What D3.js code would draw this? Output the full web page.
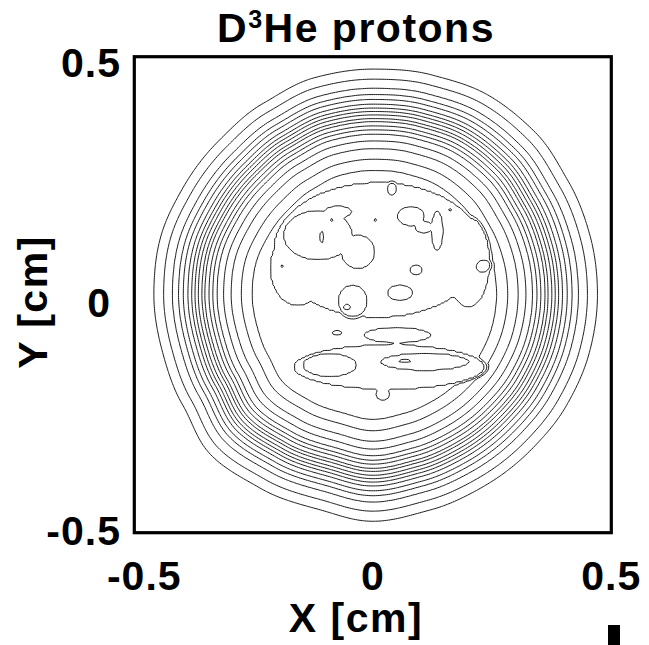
<!DOCTYPE html>
<html>
<head>
<meta charset="utf-8">
<script src="https://cdn.jsdelivr.net/npm/d3@7"></script>
<style>
  html, body { margin: 0; padding: 0; background: #fff; }
  svg { display: block; font-family: "Liberation Sans", Arial, Helvetica, sans-serif; font-weight: bold; }
</style>
</head>
<body>
<svg id="chart" width="649" height="645"></svg>
<script>
// ---- axis ticks (cm) ----
const xTicks = [-0.5, 0, 0.5];
const yTicks = [-0.5, 0, 0.5];
const xTickLabels = ["-0.5", "0", "0.5"];
const yTickLabels = ["-0.5", "0", "0.5"];

// ---- radii (cm) of the concentric rings, outermost (level 1) inward ----
const ringRadius = [0.468, 0.447, 0.428, 0.415, 0.405, 0.395, 0.387, 0.380, 0.373,
                    0.365, 0.359, 0.350, 0.342, 0.333, 0.319, 0.303, 0.281, 0.258];

// ---- radius (cm) of the outermost ring every 15 degrees, counter-clockwise from +X ----
const edgeAngleStep = 15;
const edgeRadius = [0.471, 0.472, 0.474, 0.482, 0.484, 0.478, 0.474, 0.472, 0.463, 0.457, 0.457, 0.461,
                    0.459, 0.457, 0.461, 0.478, 0.470, 0.465, 0.476, 0.468, 0.465, 0.465, 0.468, 0.470];

// ---- raised interior patches: [x, y, rx, ry, tilt (deg), level] (cm) ----
const raisedPatches = [
  // level-19 regions
  [ 0.011,  0.094, 0.220, 0.143,  0, 19],
  [-0.157,  0.056, 0.059, 0.080,  0, 19],
  [ 0.200,  0.068, 0.046, 0.095,  0, 19],
  [ 0.034, -0.152, 0.201, 0.048,  0, 19],
  [ 0.051, -0.085, 0.071, 0.017,  0, 19],
  [-0.075, -0.080, 0.011, 0.005,  0, 19],
  [ 0.021, -0.209, 0.015, 0.013,  0, 19],
  // level-20 islands
  [-0.115,  0.125, 0.073, 0.053,  0, 20],
  [-0.031,  0.090, 0.036, 0.036,  0, 20],
  [-0.073,  0.174, 0.029, 0.013,  0, 20],
  [ 0.080,  0.165, 0.029, 0.021,  0, 20],
  [ 0.135,  0.134, 0.013, 0.042,  0, 20],
  [ 0.107,  0.142, 0.019, 0.013,  0, 20],
  [ 0.040,  0.222, 0.010, 0.013,  0, 20],
  [ 0.091,  0.052, 0.013, 0.011,  0, 20],
  [ 0.057,  0.004, 0.027, 0.017,  0, 20],
  [-0.042, -0.013, 0.031, 0.034,  0, 20],
  [ 0.231,  0.060, 0.015, 0.013, 30, 20],
  [-0.090, -0.148, 0.057, 0.025,  0, 20],
  [ 0.109, -0.141, 0.094, 0.019,  0, 20],
  [-0.190,  0.060, 0.003, 0.003,  0, 20],
  [ 0.005,  0.157, 0.003, 0.003,  0, 20],
  [ 0.162,  0.178, 0.003, 0.003,  0, 20],
  // level-21 specks
  [ 0.067, -0.139, 0.015, 0.003,  0, 21],
  [-0.107,  0.121, 0.004, 0.013,  0, 21],
  [-0.086,  0.157, 0.003, 0.003,  0, 21]
];

// ---- hollows inside the interior: [x, y, rx, ry, tilt (deg), level] (cm) ----
const hollowPatches = [
  [-0.054, -0.026, 0.007, 0.006, 0, 20]
];

const contourLevels = d3.range(1, 22);

// ---- layout ----
const plot = { left: 134.3, right: 611.3, top: 56.7, bottom: 532.7 };
const x = d3.scaleLinear().domain([-0.5, 0.5]).range([plot.left, plot.right]);
const y = d3.scaleLinear().domain([-0.5, 0.5]).range([plot.bottom, plot.top]);

const svg = d3.select("#chart");

// ---- field on a regular grid ----
const N = 260;
const edgeFall = 0.004;   // cm per level outside a patch boundary

function edgeAt(deg) {
  const n = edgeRadius.length;
  const k = Math.floor(deg / edgeAngleStep) % n;
  const t = (deg - k * edgeAngleStep) / edgeAngleStep;
  const a = edgeRadius[k], b = edgeRadius[(k + 1) % n];
  const s = (1 - Math.cos(Math.PI * t)) / 2;
  return a + (b - a) * s;
}

function radialLevel(rho) {
  const R = ringRadius, n = R.length;
  if (rho >= R[0]) return 1 - (rho - R[0]) / 0.02;
  for (let k = 0; k < n - 1; k++) {
    if (rho >= R[k + 1]) return (k + 1) + (R[k] - rho) / (R[k] - R[k + 1]);
  }
  return n + Math.min(0.5, (R[n - 1] - rho) / 0.04);
}

// normalised elliptical distance and the true distance from the patch centre
function ellipse(p, px, py) {
  const [cx, cy, rx, ry, tilt] = p;
  const a = tilt * Math.PI / 180, c = Math.cos(a), s = Math.sin(a);
  const dx = px - cx, dy = py - cy;
  const u = (dx * c + dy * s) / rx, v = (-dx * s + dy * c) / ry;
  return [Math.sqrt(u * u + v * v), Math.hypot(dx, dy)];
}
function capUp(p, px, py) {
  const [d, dist] = ellipse(p, px, py), lvl = p[5];
  return d <= 1 ? lvl + 0.5 * (1 - d * d) : lvl - dist * (1 - 1 / d) / edgeFall;
}
function capDown(p, px, py) {
  const [d, dist] = ellipse(p, px, py), lvl = p[5];
  return d <= 1 ? lvl - 0.5 * (1 - d * d) : lvl + dist * (1 - 1 / d) / edgeFall;
}

const values = new Float64Array(N * N);
for (let j = 0; j < N; j++) {
  const py = 0.5 - (j + 0.5) / N;
  for (let i = 0; i < N; i++) {
    const px = -0.5 + (i + 0.5) / N;
    const r = Math.hypot(px, py);
    let deg = Math.atan2(py, px) * 180 / Math.PI;
    if (deg < 0) deg += 360;
    const rho = r * ringRadius[0] / edgeAt(deg);
    let v = radialLevel(rho);
    for (const p of raisedPatches) v = Math.max(v, capUp(p, px, py));
    for (const p of hollowPatches) v = Math.min(v, capDown(p, px, py));
    values[i + j * N] = v;
  }
}

const contours = d3.contours().size([N, N]).thresholds(contourLevels)(values);

const gridToPlot = d3.geoTransform({
  point(gx, gy) { this.stream.point(x(-0.5 + gx / N), y(0.5 - gy / N)); }
});
const path = d3.geoPath(gridToPlot);

svg.append("clipPath").attr("id", "plotClip")
  .append("rect")
  .attr("x", plot.left).attr("y", plot.top)
  .attr("width", plot.right - plot.left).attr("height", plot.bottom - plot.top);

svg.append("g")
  .attr("clip-path", "url(#plotClip)")
  .selectAll("path")
  .data(contours)
  .join("path")
  .attr("d", path)
  .attr("fill", "none")
  .attr("stroke", "#1a1a1a")
  .attr("stroke-width", 1)
  .attr("stroke-linejoin", "round");

// ---- frame ----
svg.append("rect")
  .attr("x", plot.left).attr("y", plot.top)
  .attr("width", plot.right - plot.left).attr("height", plot.bottom - plot.top)
  .attr("fill", "none").attr("stroke", "#000").attr("stroke-width", 3.2);

// ---- tick labels ----
const xLabelShift = [10, 0, 0];
svg.append("g").selectAll("text")
  .data(xTicks)
  .join("text")
  .attr("x", (d, i) => x(d) + xLabelShift[i])
  .attr("y", 590)
  .attr("text-anchor", "middle")
  .attr("font-size", 41)
  .attr("letter-spacing", 1)
  .text((d, i) => xTickLabels[i]);

const yLabelRight = [121, 111, 121];
const yLabelBase = [545, 317, 77];
svg.append("g").selectAll("text")
  .data(yTicks)
  .join("text")
  .attr("x", (d, i) => yLabelRight[i])
  .attr("y", (d, i) => yLabelBase[i])
  .attr("text-anchor", "end")
  .attr("font-size", 41)
  .attr("letter-spacing", 1)
  .text((d, i) => yTickLabels[i]);

// ---- titles ----
const title = svg.append("text")
  .attr("x", 356).attr("y", 42)
  .attr("text-anchor", "middle")
  .attr("font-size", 41)
  .attr("letter-spacing", 1.5);
title.append("tspan").text("D");
title.append("tspan").attr("font-size", 25).attr("dy", -14).text("3");
title.append("tspan").attr("dy", 14).text("He protons");

svg.append("text")
  .attr("x", 356).attr("y", 632)
  .attr("text-anchor", "middle")
  .attr("font-size", 41)
  .attr("letter-spacing", 1.5)
  .text("X [cm]");

svg.append("text")
  .attr("transform", "translate(47,302) rotate(-90)")
  .attr("text-anchor", "middle")
  .attr("font-size", 41)
  .attr("letter-spacing", 1.5)
  .text("Y [cm]");

// small marker at the lower right
svg.append("rect")
  .attr("x", 608).attr("y", 625).attr("width", 12).attr("height", 20)
  .attr("fill", "#000");
</script>
</body>
</html>
